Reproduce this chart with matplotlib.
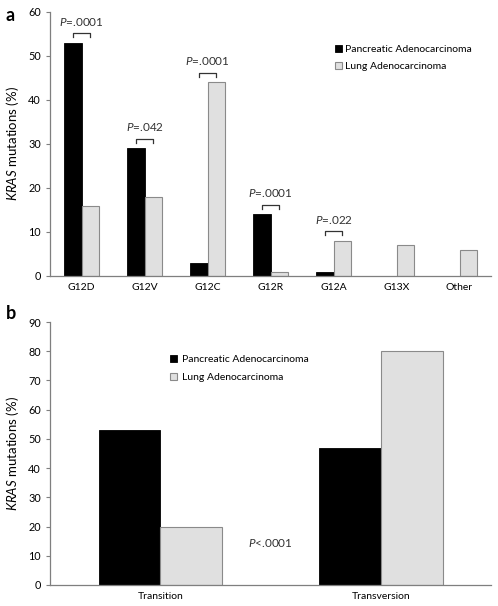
import matplotlib
matplotlib.use("Agg")
import matplotlib.pyplot as plt
import numpy as np

plt.rcParams['font.family'] = ['Lato', 'DejaVu Sans']
plt.rcParams['mathtext.fontset'] = 'custom'
plt.rcParams['mathtext.rm'] = 'Lato'
plt.rcParams['mathtext.it'] = 'Lato:italic'

# panel a data
mutations = ['G12D', 'G12V', 'G12C', 'G12R', 'G12A', 'G13X', 'Other']
pancreatic_a = [53, 29, 3, 14, 1, 0, 0]
lung_a = [16, 18, 44, 1, 8, 7, 6]
pvals_a = {0: 'P=.0001', 1: 'P=.042', 2: 'P=.0001', 3: 'P=.0001', 4: 'P=.022'}

# panel b data
types = ['Transition', 'Transversion']
pancreatic_b = [53, 47]
lung_b = [20, 80]

black = '#000000'
grey = '#e0e0e0'
grey_edge = '#8a8a8a'
width = 0.28
ylab = r'$\it{KRAS}$ mutations (%)'

fig = plt.figure(figsize=(4.98, 6.06), dpi=100)
ax1 = fig.add_axes([0.1004, 0.5446, 0.8856, 0.4356])
ax2 = fig.add_axes([0.1004, 0.0347, 0.8856, 0.4339])


def style(ax, ymax, step):
    for s in ['top', 'right']:
        ax.spines[s].set_visible(False)
    for s in ['left', 'bottom']:
        ax.spines[s].set_color('#7f7f7f')
        ax.spines[s].set_linewidth(0.9)
    ax.set_ylim(0, ymax)
    ax.set_yticks(np.arange(0, ymax + 1, step))
    ax.tick_params(axis='y', colors='#7f7f7f', labelcolor='black', labelsize=7.8, length=3)
    ax.tick_params(axis='x', length=0, labelsize=7.5, pad=5)
    ax.set_ylabel(ylab, fontsize=9.5)
    ax.yaxis.set_label_coords(-0.066, 0.5)


x = np.arange(len(mutations))
ax1.bar(x - width / 2, pancreatic_a, width, color=black, edgecolor=black, linewidth=0.6,
        label='Pancreatic Adenocarcinoma')
ax1.bar(x + width / 2, lung_a, width, color=grey, edgecolor=grey_edge, linewidth=0.8,
        label='Lung Adenocarcinoma')
ax1.set_xlim(-0.5, len(mutations) - 0.5)
ax1.set_xticks(x)
ax1.set_xticklabels(mutations)
style(ax1, 60, 10)

for i, p in pvals_a.items():
    top = max(pancreatic_a[i], lung_a[i]) + 2.2
    xl, xr = i - width / 2, i + width / 2
    ax1.plot([xl, xl, xr, xr], [top - 0.9, top, top, top - 0.9], color='#333333', lw=0.9)
    ax1.text(i, top + 1.2, r'$\it{P}$=' + p[2:], ha='center', va='bottom', fontsize=8.5,
             color='#333333')

ax1.legend(loc='upper left', bbox_to_anchor=(0.625, 0.91), frameon=False, fontsize=7.5,
           handlelength=0.7, handleheight=0.7, handletextpad=0.3, labelspacing=0.7)

xb = np.arange(len(types))
ax2.bar(xb - width / 2, pancreatic_b, width, color=black, edgecolor=black, linewidth=0.6,
        label='Pancreatic Adenocarcinoma')
ax2.bar(xb + width / 2, lung_b, width, color=grey, edgecolor=grey_edge, linewidth=0.8,
        label='Lung Adenocarcinoma')
ax2.set_xlim(-0.5, len(types) - 0.5)
ax2.set_xticks(xb)
ax2.set_xticklabels(types)
style(ax2, 90, 10)
ax2.text(0.5, 14.4, r'$\it{P}$<.0001', ha='center', va='center', fontsize=8.5, color='#333333')
ax2.legend(loc='upper left', bbox_to_anchor=(0.25, 0.91), frameon=False, fontsize=7.5,
           handlelength=0.7, handleheight=0.7, handletextpad=0.5, labelspacing=0.8)

fig.text(0.012, 0.975, 'a', fontsize=13, fontweight='bold', va='center')
fig.text(0.012, 0.482, 'b', fontsize=13, fontweight='bold', va='center')

fig.savefig('out.png', dpi=100)
